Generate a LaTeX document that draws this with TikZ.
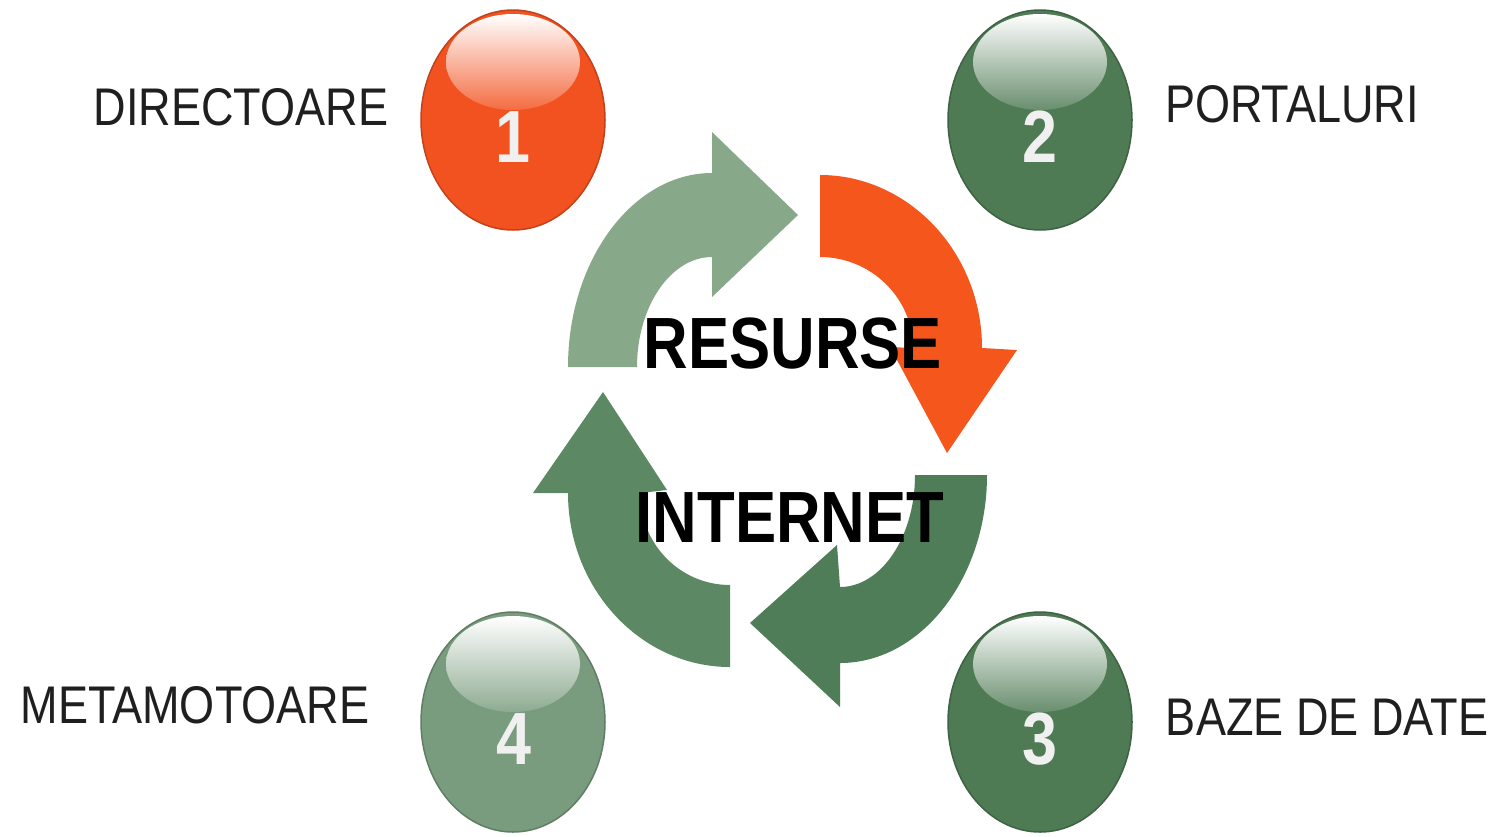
\documentclass[tikz,border=0pt]{standalone}
\usepackage{fontspec}
\setmainfont{Liberation Sans}
\newfontfamily\labfont[FakeStretch=0.85]{Liberation Sans}
\usetikzlibrary{shapes.geometric}
\definecolor{ballOrange}{RGB}{242,82,32}
\definecolor{ballDark}{RGB}{78,122,84}
\definecolor{ballLight}{RGB}{122,156,126}
\definecolor{arLight}{RGB}{136,168,138}
\definecolor{arOrange}{RGB}{245,86,28}
\definecolor{arDark}{RGB}{79,125,87}
\definecolor{arMid}{RGB}{92,137,100}
\begin{document}
\begin{tikzpicture}[x=1pt,y=-1pt,
  lbl/.style={font=\labfont\fontsize{53}{60}\selectfont, anchor=base, inner sep=0pt, text=black!88},
  big/.style={font=\labfont\bfseries\fontsize{72.6}{80}\selectfont, anchor=base, inner sep=0pt, text=black},
  num/.style={font=\labfont\bfseries\fontsize{74}{80}\selectfont, anchor=base, inner sep=0pt, text=white!94!black},
  ball/.style={ellipse, minimum width=184pt, minimum height=220pt, inner sep=0pt, fill=#1, draw=#1!80!black, line width=1.5pt},
  shine/.style={top color=white, middle color=white!80!#1, bottom color=#1!85!white},
]
\useasboundingbox[fill=white] (0,0) rectangle (1501,836);

% cycle arrows
\fill[arLight] (568,367) .. controls (568,260) and (633,173) .. (712,173)
  -- (712,132) -- (798,215) -- (712,297) -- (712,257)
  .. controls (671,257) and (637,306) .. (637,367) -- cycle;
\fill[arOrange] (820,175) .. controls (909,175) and (982,253) .. (982,348)
  -- (1017,350) -- (947,453) -- (890,347) -- (913,348)
  .. controls (913,298) and (871,257) .. (820,257) -- cycle;
\fill[arDark] (987,475) .. controls (987,578) and (921,663) .. (840,663)
  -- (840,707) -- (750,623) -- (837,545) -- (840,587)
  .. controls (881,587) and (915,537) .. (915,475) -- cycle;
\fill[arMid] (730,667) .. controls (641,667) and (568,589) .. (568,493)
  -- (533,493) -- (603,392) -- (667,490) -- (640,493)
  .. controls (640,544) and (680,585) .. (730,585) -- cycle;

% balls
\node[ball=ballOrange] (b1) at (513,120) {};
\node[ball=ballDark]   (b2) at (1040,120) {};
\node[ball=ballDark]   (b3) at (1040,722) {};
\node[ball=ballLight]  (b4) at (513,722) {};
\shade[shine=ballOrange] ([yshift=58pt]b1.center) ellipse [x radius=67pt, y radius=48pt];
\shade[shine=ballDark]   ([yshift=58pt]b2.center) ellipse [x radius=67pt, y radius=48pt];
\shade[shine=ballDark]   ([yshift=58pt]b3.center) ellipse [x radius=67pt, y radius=48pt];
\shade[shine=ballLight]  ([yshift=58pt]b4.center) ellipse [x radius=67pt, y radius=48pt];

\node[num] (n1) at (513,162) {1};
\node[num] (n2) at (1040,162) {2};
\node[num] (n3) at (1040,764) {3};
\node[num] (n4) at (514,764) {4};

% labels
\node[lbl] (l1) at (241,125) {DIRECTOARE};
\node[lbl] (l2) at (1292,122) {PORTALURI};
\node[lbl] (l3) at (1327,735) {BAZE DE DATE};
\node[lbl] (l4) at (195,723) {METAMOTOARE};

\node[big] (t1) at (793,368) {RESURSE};
\node[big] (t2) at (790,542) {INTERNET};
\end{tikzpicture}
\end{document}
